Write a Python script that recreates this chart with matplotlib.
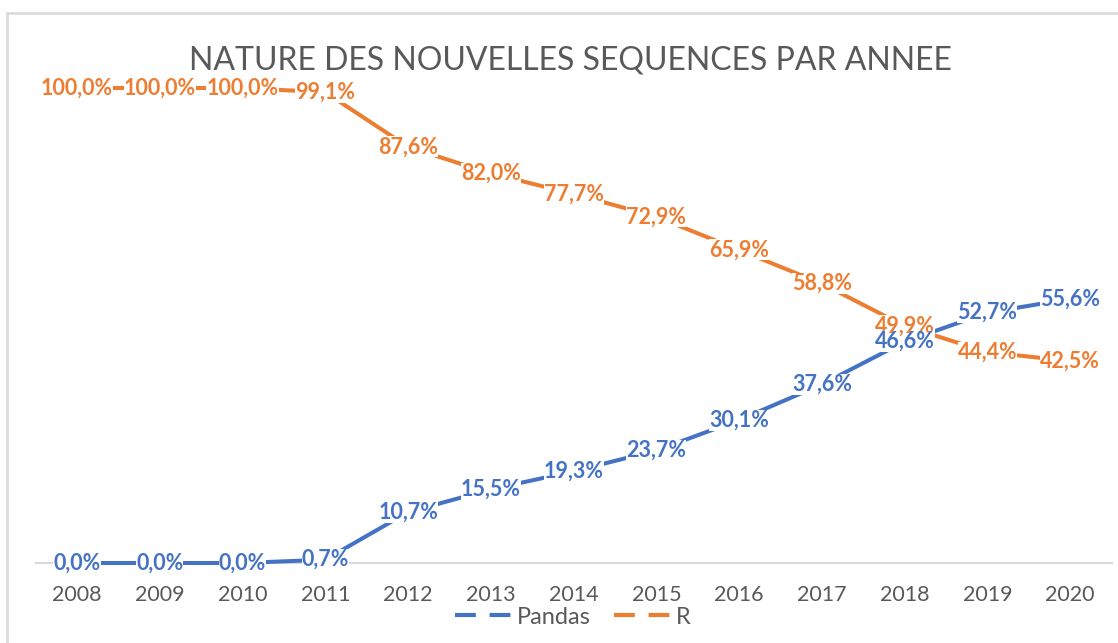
import matplotlib.pyplot as plt
from matplotlib.lines import Line2D
from matplotlib.patches import Rectangle

years = ['2008', '2009', '2010', '2011', '2012', '2013', '2014',
         '2015', '2016', '2017', '2018', '2019', '2020']
pandas_vals = [0.0, 0.0, 0.0, 0.7, 10.7, 15.5, 19.3, 23.7, 30.1, 37.6, 46.6, 52.7, 55.6]
r_vals = [100.0, 100.0, 100.0, 99.1, 87.6, 82.0, 77.7, 72.9, 65.9, 58.8, 49.9, 44.4, 42.5]

blue = '#4472C4'
orange = '#ED7D31'
gray = '#595959'

plt.rcParams['font.family'] = ['Lato', 'DejaVu Sans']

fig = plt.figure(figsize=(11.18, 6.43), dpi=100)
W, H = 1118, 643
ax = fig.add_axes([35.6 / W, 80 / H, 1076 / W, 475 / H])

# light frame (top and left edges)
fig.add_artist(Line2D([7 / W, 7 / W], [0, 1 - 13 / H], transform=fig.transFigure,
                      color='#d9d9d9', lw=1.8))
fig.add_artist(Line2D([7 / W, 1], [1 - 13 / H, 1 - 13 / H], transform=fig.transFigure,
                      color='#d9d9d9', lw=1.8))

x = list(range(len(years)))
ax.plot(x, pandas_vals, color=blue, lw=2.9, solid_capstyle='round', zorder=2, clip_on=False)
ax.plot(x, r_vals, color=orange, lw=2.9, solid_capstyle='round', zorder=2, clip_on=False)

def fmt(v):
    return ('%.1f' % v).replace('.', ',') + '%'

labels = []
for vals, c in [(r_vals, orange), (pandas_vals, blue)]:
    for xi, v in zip(x, vals):
        t = ax.text(xi, v, fmt(v), color=c, fontsize=15.5, fontweight='bold',
                    ha='center', va='center', zorder=4)
        labels.append(t)

ax.set_xlim(-0.5, len(years) - 0.5)
ax.set_ylim(0, 100)
ax.set_xticks(x)
ax.set_xticklabels(years, fontsize=15.5, color=gray)
ax.set_yticks([])
ax.tick_params(axis='x', length=0, pad=16)
for s in ['top', 'right', 'left']:
    ax.spines[s].set_visible(False)
ax.spines['bottom'].set_color('#d9d9d9')
ax.spines['bottom'].set_linewidth(1.5)
ax.spines['bottom'].set_zorder(1)

fig.text(570 / W, 1 - 60 / H, 'NATURE DES NOUVELLES SEQUENCES PAR ANNEE',
         fontsize=23, fontweight='normal', color=gray, ha='center', va='center')

handles = [Line2D([], [], color=blue, lw=3, linestyle=(0, (5, 3.3))),
           Line2D([], [], color=orange, lw=3, linestyle=(0, (5, 3.3)))]
leg = fig.legend(handles, ['Pandas', 'R'], loc='center', ncol=2, frameon=False,
                 bbox_to_anchor=(573 / W, 1 - 617 / H), fontsize=17,
                 handlelength=2.4, handletextpad=0.2, columnspacing=1.0,
                 borderpad=0.1)
for t in leg.get_texts():
    t.set_color(gray)

# white masks behind the data labels so the lines stop short of them
fig.canvas.draw()
r = fig.canvas.get_renderer()
for t in labels:
    bb = t.get_window_extent(r).transformed(ax.transData.inverted())
    ax.add_patch(Rectangle((bb.x0, bb.y0), bb.width, bb.height, fc='white',
                           ec='none', zorder=3, clip_on=False))

fig.savefig('out.png', dpi=100, facecolor='white')
